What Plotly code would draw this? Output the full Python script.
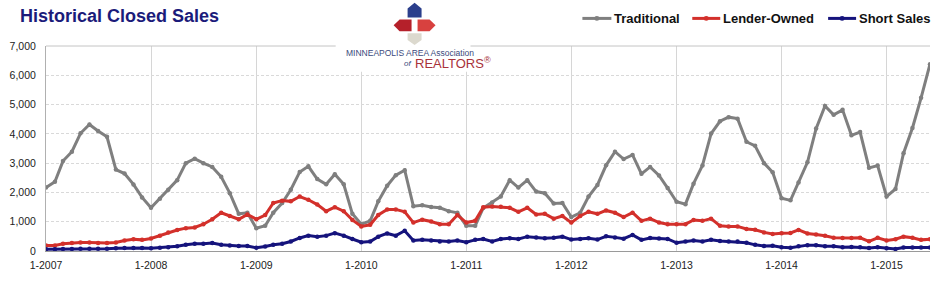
import plotly.graph_objects as go
import pandas as pd

# ---------------- data ----------------
months = pd.date_range("2007-01-01", "2015-06-01", freq="MS")

traditional = [
    2165, 2365, 3070, 3390, 4020, 4320, 4100, 3900, 2780, 2645, 2275, 1830,
    1475, 1785, 2090, 2420, 3000, 3150, 3000, 2870, 2535, 1975, 1270, 1305,
    780, 860, 1305, 1640, 2090, 2700, 2890, 2455, 2280, 2620, 2280, 1270,
    915, 1030, 1695, 2230, 2590, 2760, 1530, 1560, 1505, 1475, 1360, 1305,
    860, 860, 1470, 1660, 1860, 2420, 2165, 2420, 2030, 1975, 1620, 1640,
    1160, 1305, 1860, 2255, 2925, 3390, 3140, 3280, 2635, 2870, 2580, 2150,
    1680, 1600, 2300, 2920, 4010, 4430, 4570, 4520, 3730, 3590, 3000, 2690,
    1800, 1730, 2340, 3030, 4180, 4950, 4650, 4820, 3950, 4060, 2840, 2920,
    1860, 2120, 3340, 4200, 5230, 6380,
]
lender_owned = [
    190, 190, 245, 270, 290, 290, 270, 270, 290, 360, 400, 380,
    425, 525, 635, 715, 780, 805, 915, 1085, 1305, 1195, 1085, 1250,
    1085, 1230, 1640, 1720, 1695, 1860, 1750, 1585, 1360, 1495, 1360, 1060,
    840, 895, 1230, 1420, 1420, 1340, 970, 1070, 1005, 915, 915, 1230,
    970, 1030, 1495, 1520, 1510, 1475, 1340, 1475, 1250, 1270, 1105, 1195,
    970, 1195, 1340, 1270, 1385, 1305, 1160, 1310, 1030, 1105, 970, 915,
    915, 915, 1060, 1030, 1105, 860, 840, 840, 750, 725, 635, 580,
    610, 615, 720, 600, 560, 520, 450, 440, 440, 450, 330, 450,
    360, 400, 490, 450, 380, 400,
]
short_sales = [
    60, 60, 70, 70, 80, 80, 80, 80, 90, 100, 100, 100,
    90, 110, 130, 160, 215, 250, 250, 270, 215, 190, 170, 170,
    110, 155, 215, 250, 325, 445, 525, 490, 525, 610, 525, 410,
    300, 325, 490, 600, 525, 690, 360, 380, 360, 325, 325, 360,
    300, 380, 410, 325, 410, 435, 410, 490, 465, 435, 450, 490,
    390, 410, 435, 390, 500, 465, 420, 550, 380, 445, 430, 410,
    280, 325, 360, 325, 380, 345, 325, 325, 280, 210, 170, 180,
    130, 110, 160, 200, 200, 160, 160, 130, 140, 130, 100, 130,
    90, 70, 120, 120, 120, 120,
]

series_names = ["Traditional", "Lender-Owned", "Short Sales"]
series_colors = ["#7f7f7f", "#d3302b", "#15137c"]
y_ticks = [0, 1000, 2000, 3000, 4000, 5000, 6000, 7000]

# ---------------- layout helpers ----------------
W, H = 940, 281
L, R, T, B = 45, 10, 46, 27
PW, PH = W - L - R, H - T - B


def px(x):
    return (x - L) / PW


def py(y):
    return (H - B - y) / PH


FONT = "Liberation Sans, Arial, Helvetica, sans-serif"

fig = go.Figure()
for name, vals, col in zip(series_names, [traditional, lender_owned, short_sales], series_colors):
    fig.add_trace(go.Scatter(
        x=months, y=vals, name=name, mode="lines+markers",
        line=dict(color=col, width=3),
        marker=dict(color=col, size=4.5),
        showlegend=False,
    ))

shapes = []
annotations = []

# top border line at 7000
shapes.append(dict(type="line", xref="paper", yref="paper", x0=0, x1=1, y0=1, y1=1,
                   line=dict(color="#c4c4c4", width=1), layer="above"))

# white box behind logo
shapes.append(dict(type="rect", xref="paper", yref="paper",
                   x0=px(335), x1=px(470), y0=py(72), y1=py(34),
                   fillcolor="white", line=dict(width=0), layer="above"))


def path(pts):
    return "M " + " L ".join(f"{px(x):.5f},{py(y):.5f}" for x, y in pts) + " Z"


logo = [
    ([(407, 17), (407, 8), (414, 2), (421, 8), (421, 17)], "#2b3f8c"),
    ([(393, 25), (399, 19), (411, 19), (411, 31), (399, 31)], "#b5202a"),
    ([(417, 19), (429, 19), (435, 25), (429, 31), (417, 31)], "#d8413f"),
    ([(407, 33), (421, 33), (421, 40), (414, 45), (407, 40)], "#dcd9ce"),
]
for pts, col in logo:
    shapes.append(dict(type="path", xref="paper", yref="paper", path=path(pts),
                       fillcolor=col, line=dict(width=0), layer="above"))

annotations.append(dict(xref="paper", yref="paper", x=px(343), y=py(53), xanchor="left", yanchor="middle",
                        text="MINNEAPOLIS AREA Association", showarrow=False,
                        font=dict(family=FONT, size=8.5, color="#3a4a7c")))
annotations.append(dict(xref="paper", yref="paper", x=px(401), y=py(64), xanchor="left", yanchor="middle",
                        text="<i>of</i>", showarrow=False,
                        font=dict(family=FONT, size=8, color="#3a4a7c")))
annotations.append(dict(xref="paper", yref="paper", x=px(412), y=py(63.5), xanchor="left", yanchor="middle",
                        text="REALTORS<sup>®</sup>", showarrow=False,
                        font=dict(family=FONT, size=13, color="#a8323a")))

# title
annotations.append(dict(xref="paper", yref="paper", x=px(17), y=py(16), xanchor="left", yanchor="middle",
                        text="<b>Historical Closed Sales</b>", showarrow=False,
                        font=dict(family=FONT, size=18, color="#1b1b7a")))

# legend (manual)
legend_pos = [(582, 611, 612), (692, 720, 721), (828, 856, 857)]
ly = 18
for (x0, x1, tx), name, col in zip(legend_pos, series_names, series_colors):
    shapes.append(dict(type="line", xref="paper", yref="paper", x0=px(x0), x1=px(x1), y0=py(ly), y1=py(ly),
                       line=dict(color=col, width=3), layer="above"))
    cx = (x0 + x1) / 2
    shapes.append(dict(type="circle", xref="paper", yref="paper",
                       x0=px(cx - 2.5), x1=px(cx + 2.5), y0=py(ly + 2.5), y1=py(ly - 2.5),
                       fillcolor=col, line=dict(width=0), layer="above"))
    annotations.append(dict(xref="paper", yref="paper", x=px(tx), y=py(ly), xanchor="left", yanchor="middle",
                            text=f"<b>{name}</b>", showarrow=False,
                            font=dict(family=FONT, size=13, color="#111111")))

fig.update_layout(
    width=W, height=H,
    margin=dict(l=L, r=R, t=T, b=B, pad=0),
    paper_bgcolor="white", plot_bgcolor="white",
    shapes=shapes, annotations=annotations,
    showlegend=False,
    font=dict(family=FONT, size=10.5, color="#222222"),
    xaxis=dict(
        type="date",
        range=[months[0], months[-1]],
        tick0="2007-01-01", dtick="M12", tickformat="%-m-%Y",
        showgrid=True, gridcolor="#d6d6d6", gridwidth=1,
        showline=True, linecolor="#9a9a9a", linewidth=1,
        ticks="", ticklabelstandoff=4,
        tickfont=dict(family=FONT, size=10.5, color="#222222"),
        zeroline=False, fixedrange=True,
    ),
    yaxis=dict(
        range=[0, 7000],
        tickvals=y_ticks, tickformat=",d",
        showgrid=True, gridcolor="#d9d9d9", gridwidth=1, griddash="3px,2px",
        showline=True, linecolor="#b0b0b0", linewidth=1,
        ticks="", ticklabelstandoff=7,
        tickfont=dict(family=FONT, size=10.5, color="#222222"),
        zeroline=False, fixedrange=True,
    ),
)

fig.write_html("out.html")
